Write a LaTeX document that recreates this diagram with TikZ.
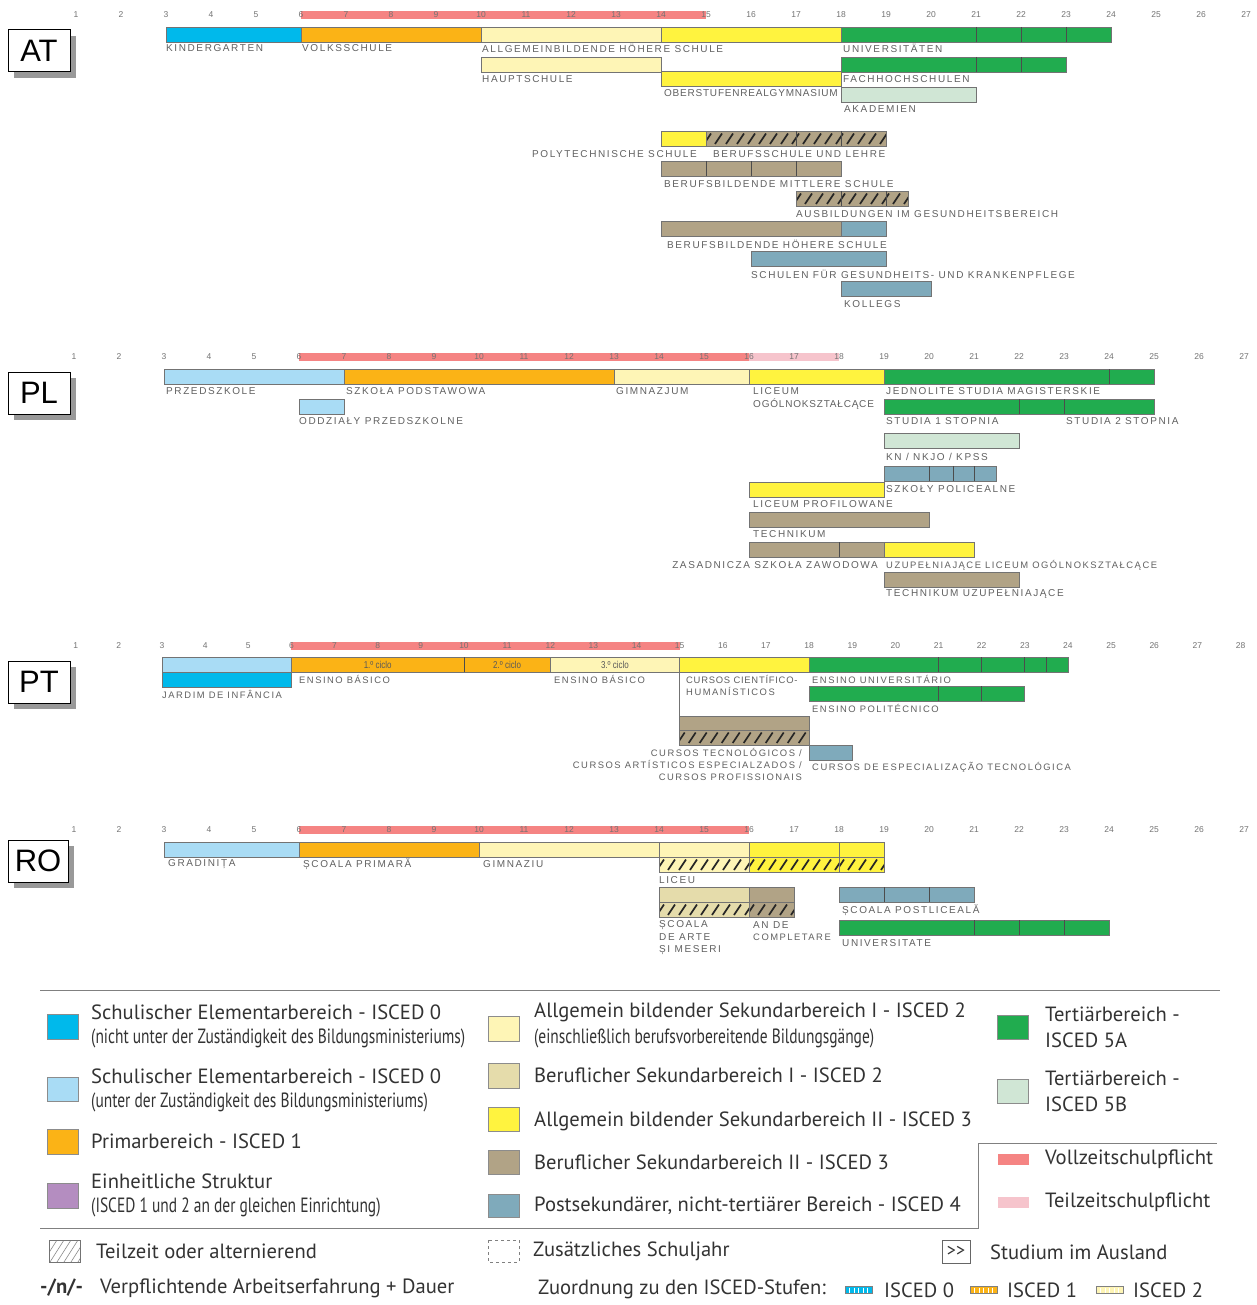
\documentclass[tikz,border=0pt]{standalone}
\usepackage{fontspec}
\setmainfont{Liberation Sans}
\newfontfamily\labfont[LetterSpace=16]{Liberation Sans}
\newfontfamily\labnarrow[LetterSpace=8]{Liberation Sans}
\newfontfamily\legfont{PT Sans}
\newfontfamily\legcond[FakeStretch=0.75]{PT Sans}
\newfontfamily\cicfont[FakeStretch=0.8]{Liberation Sans}
\definecolor{cCyan}{HTML}{00B9EB}
\definecolor{cLblue}{HTML}{A9DCF5}
\definecolor{cOrange}{HTML}{FBB316}
\definecolor{cPurple}{HTML}{B48DC0}
\definecolor{cLyel}{HTML}{FEF5B6}
\definecolor{cBeige}{HTML}{E5DCAB}
\definecolor{cYel}{HTML}{FFF33F}
\definecolor{cBrown}{HTML}{B1A386}
\definecolor{cBlue}{HTML}{7FAABB}
\definecolor{cGreen}{HTML}{21AC4F}
\definecolor{cLgreen}{HTML}{D0E6D5}
\definecolor{cRed}{HTML}{F58483}
\definecolor{cPink}{HTML}{F6C4CC}
\newcounter{nn}
\tikzset{
  bord/.style={draw=black!55, line width=0.8pt},
  divl/.style={draw=black!70, line width=0.8pt},
  hatchl/.style={draw=black!85, line width=1.7pt},
  lbl/.style={font=\labfont\fontsize{10}{11}\selectfont, text=black!62, inner sep=0pt},
  lblpt/.style={font=\labfont\fontsize{9.4}{10}\selectfont},
  lblnar/.style={font=\labnarrow\fontsize{10}{11}\selectfont},
  lblnarpt/.style={font=\labnarrow\fontsize{9.4}{10}\selectfont},
  numl/.style={font=\fontsize{8.5}{9}\selectfont, text=black!55, inner sep=0pt},
  cic/.style={font=\cicfont\fontsize{10}{10}\selectfont, text=black!65, inner sep=0pt},
  ctry/.style={draw=black, line width=1pt, fill=white, minimum width=62pt, minimum height=42pt, inner sep=0pt, font=\fontsize{31}{32}\selectfont},
  leg/.style={font=\legfont\fontsize{20.6}{22}\selectfont, text=black!80, inner sep=0pt, anchor=west},
  legc/.style={font=\legcond\fontsize{20.6}{22}\selectfont, text=black!80, inner sep=0pt, anchor=west},
  legbox/.style={draw=black!45, line width=0.7pt},
  sepl/.style={draw=black!50, line width=0.8pt},
  lbxtra/.style={}
}
\newcommand\lbtxt[4][west]{\stepcounter{nn}\node[lbl,anchor=#1,lbxtra] (lab\thenn) at (#2,#3) {#4};}
\newcommand\legtxt[4][leg]{\stepcounter{nn}\node[#1] (lg\thenn) at (#2,#3) {#4};}
\newcommand\mybar[4]{\draw[bord,fill=#4] ({\Xo+\Xs*(#1)},#3) rectangle ({\Xo+\Xs*(#2)},{#3+15});}
\newcommand\mydiv[2]{\draw[divl] ({\Xo+\Xs*(#1)},#2) -- ({\Xo+\Xs*(#1)},{#2+15});}
\newcommand\myhatch[4]{%
  \fill[#4] ({\Xo+\Xs*(#1)},#3) rectangle ({\Xo+\Xs*(#2)},{#3+15});
  \begin{scope}
    \clip ({\Xo+\Xs*(#1)},#3) rectangle ({\Xo+\Xs*(#2)},{#3+15});
    \pgfmathsetmacro\hxa{\Xo+\Xs*(#1)-2}
    \pgfmathsetmacro\hxn{\hxa+11}
    \pgfmathsetmacro\hxb{\Xo+\Xs*(#2)+2}
    \foreach \hx in {\hxa,\hxn,...,\hxb}{\draw[hatchl] ({\hx},{#3+13}) -- ({\hx+7},{#3+2.5});}
  \end{scope}
  \draw[bord] ({\Xo+\Xs*(#1)},#3) rectangle ({\Xo+\Xs*(#2)},{#3+15});}
\newcommand\mycomp[4]{\fill[#4] ({\Xo+\Xs*(#1)},{#3-4}) rectangle ({\Xo+\Xs*(#2)},{#3+4});}
\newcommand\mynums[3]{\foreach \a in {1,...,#2}{\node[numl] (#3\a) at ({\Xo+\Xs*\a},#1) {\a};}}
\newcommand\myctry[5]{%
  \fill[black!40] ({#2+6},{#3+6}) rectangle ({#4+6},{#5+6});
  \node[ctry, minimum width={#4-#2}, minimum height={#5-#3}] (#1) at ({(#2+#4)/2},{(#3+#5)/2}) {#1};}
\newcommand\iscedicon[3]{%
  \draw[black!50, line width=0.5pt, fill=#3] (#1,{#2-3.5}) rectangle ({#1+27},{#2+3.5});
  \foreach \k in {1,...,5}{\draw[white, line width=1pt] ({#1+\k*4.5},{#2-2.5}) -- ({#1+\k*4.5},{#2+2.5});}}
\begin{document}
\begin{tikzpicture}[x=1pt,y=-1pt]
\useasboundingbox (0,0) rectangle (1256,1305);
\fill[white] (0,0) rectangle (1256,1305);
% ================= AT =================
\def\Xo{31}\def\Xs{45}
\myctry{AT}{8}{30}{70}{72}
\mycomp{6}{15}{15}{cRed}
\mynums{15}{27}{at}
\mybar{3}{6}{27}{cCyan}
\mybar{6}{10}{27}{cOrange}
\mybar{10}{14}{27}{cLyel}
\mybar{14}{18}{27}{cYel}
\mybar{18}{24}{27}{cGreen}\mydiv{21}{27}\mydiv{22}{27}\mydiv{23}{27}
\lbtxt{166}{48}{KINDERGARTEN}
\lbtxt{302}{48}{VOLKSSCHULE}
\lbtxt{482}{48}{ALLGEMEINBILDENDE HÖHERE SCHULE}
\lbtxt{843}{48}{UNIVERSITÄTEN}
\mybar{10}{14}{57}{cLyel}
\mybar{18}{23}{57}{cGreen}\mydiv{21}{57}\mydiv{22}{57}
\mybar{14}{18}{71}{cYel}
\lbtxt{482}{79}{HAUPTSCHULE}
\lbtxt{843}{79}{FACHHOCHSCHULEN}
\mybar{18}{21}{87}{cLgreen}
\begingroup\tikzset{lbxtra/.style={lblnar}}
\lbtxt[east]{838}{93}{OBERSTUFENREALGYMNASIUM}
\endgroup
\lbtxt{844}{109}{AKADEMIEN}
\mybar{14}{15}{131}{cYel}
\myhatch{15}{19}{131}{cBrown}\mydiv{17}{131}\mydiv{18}{131}
\lbtxt[east]{697}{154}{POLYTECHNISCHE SCHULE}
\lbtxt{713}{154}{BERUFSSCHULE UND LEHRE}
\mybar{14}{18}{161}{cBrown}\mydiv{15}{161}\mydiv{16}{161}\mydiv{17}{161}
\lbtxt{664}{184}{BERUFSBILDENDE MITTLERE SCHULE}
\myhatch{17}{19.5}{191}{cBrown}\mydiv{18}{191}\mydiv{19}{191}
\lbtxt{796}{214}{AUSBILDUNGEN IM GESUNDHEITSBEREICH}
\mybar{14}{18}{221}{cBrown}
\mybar{18}{19}{221}{cBlue}
\lbtxt{667}{244}{BERUFSBILDENDE HÖHERE SCHULE}
\mybar{16}{19}{251}{cBlue}
\lbtxt{751}{274}{SCHULEN FÜR GESUNDHEITS- UND KRANKENPFLEGE}
\mybar{18}{20}{281}{cBlue}
\lbtxt{844}{304}{KOLLEGS}
% ================= PL =================
\def\Xo{29}\def\Xs{45}
\myctry{PL}{8}{372}{70}{414}
\mycomp{6}{16}{357}{cRed}
\mycomp{16}{18}{357}{cPink}
\mynums{357}{27}{pl}
\mybar{3}{7}{369}{cLblue}
\mybar{7}{13}{369}{cOrange}
\mybar{13}{16}{369}{cLyel}
\mybar{16}{19}{369}{cYel}
\mybar{19}{25}{369}{cGreen}\mydiv{24}{369}
\lbtxt{166}{391}{PRZEDSZKOLE}
\lbtxt{346}{391}{SZKOŁA PODSTAWOWA}
\lbtxt{616}{391}{GIMNAZJUM}
\lbtxt{753}{391}{LICEUM}
\begingroup\tikzset{lbxtra/.style={lblnar}}
\lbtxt{753}{404}{OGÓLNOKSZTAŁCĄCE}
\endgroup
\lbtxt{886}{391}{JEDNOLITE STUDIA MAGISTERSKIE}
\mybar{6}{7}{399}{cLblue}
\mybar{19}{25}{399}{cGreen}\mydiv{22}{399}\mydiv{23}{399}
\lbtxt{299}{421}{ODDZIAŁY PRZEDSZKOLNE}
\lbtxt{886}{421}{STUDIA 1 STOPNIA}
\lbtxt{1066}{421}{STUDIA 2 STOPNIA}
\mybar{19}{22}{433}{cLgreen}
\lbtxt{886}{457}{KN / NKJO / KPSS}
\mybar{19}{21.5}{466}{cBlue}\mydiv{20}{466}\mydiv{20.55}{466}\mydiv{21}{466}
\lbtxt{886}{489}{SZKOŁY POLICEALNE}
\mybar{16}{19}{482}{cYel}
\lbtxt{753}{504}{LICEUM PROFILOWANE}
\mybar{16}{20}{512}{cBrown}
\lbtxt{753}{534}{TECHNIKUM}
\mybar{16}{19}{542}{cBrown}\mydiv{18}{542}
\mybar{19}{21}{542}{cYel}
\lbtxt[east]{878}{565}{ZASADNICZA SZKOŁA ZAWODOWA}
\begingroup\tikzset{lbxtra/.style={lblpt}}
\lbtxt{886}{565}{UZUPEŁNIAJĄCE LICEUM OGÓLNOKSZTAŁCĄCE}
\endgroup
\mybar{19}{22}{572}{cBrown}
\lbtxt{886}{594}{TECHNIKUM UZUPEŁNIAJĄCE}
% ================= PT =================
\def\Xo{32.58}\def\Xs{43.14}
\begingroup\tikzset{lbxtra/.style={lblpt}}
\myctry{PT}{8}{661}{70}{703}
\mycomp{6}{15}{646}{cRed}
\mynums{646}{28}{pt}
\draw[black!55, line width=0.8pt] ({\Xo+\Xs*15},672) -- ({\Xo+\Xs*15},716);
\mybar{3}{6}{657}{cLblue}
\mybar{3}{6}{672}{cCyan}
\mybar{6}{12}{657}{cOrange}\mydiv{10}{657}
\mybar{12}{15}{657}{cLyel}
\mybar{15}{18}{657}{cYel}
\mybar{18}{24}{657}{cGreen}\mydiv{21}{657}\mydiv{22}{657}\mydiv{23}{657}\mydiv{23.5}{657}
\node[cic] (c1) at ({\Xo+\Xs*8},664.5) {1.º ciclo};
\node[cic] (c2) at ({\Xo+\Xs*11},664.5) {2.º ciclo};
\node[cic] (c3) at ({\Xo+\Xs*13.5},664.5) {3.º ciclo};
\lbtxt{299}{679}{ENSINO BÁSICO}
\lbtxt{554}{679}{ENSINO BÁSICO}
\begingroup\tikzset{lbxtra/.style={lblnarpt}}
\lbtxt{686}{679}{CURSOS CIENTÍFICO-}
\endgroup
\lbtxt{686}{691}{HUMANÍSTICOS}
\lbtxt{812}{679}{ENSINO UNIVERSITÁRIO}
\lbtxt{162}{694}{JARDIM DE INFÂNCIA}
\mybar{18}{23}{686}{cGreen}\mydiv{21}{686}\mydiv{22}{686}
\lbtxt{812}{708}{ENSINO POLITÉCNICO}
\mybar{15}{18}{716}{cBrown}
\myhatch{15}{18}{730}{cBrown}
\mybar{18}{19}{745}{cBlue}
\lbtxt[east]{802}{752}{CURSOS TECNOLÓGICOS /}
\lbtxt[east]{802}{764}{CURSOS ARTÍSTICOS ESPECIALZADOS /}
\lbtxt[east]{802}{777}{CURSOS PROFISSIONAIS}
\lbtxt{812}{767}{CURSOS DE ESPECIALIZAÇÃO TECNOLÓGICA}
\endgroup
% ================= RO =================
\def\Xo{29}\def\Xs{45}
\myctry{RO}{8}{840}{68}{882}
\mycomp{6}{16}{830}{cRed}
\mynums{830}{27}{ro}
\mybar{3}{6}{842}{cLblue}
\mybar{6}{10}{842}{cOrange}
\mybar{10}{14}{842}{cLyel}
\mybar{14}{16}{842}{cLyel}
\mybar{16}{18}{842}{cYel}
\mybar{18}{19}{842}{cYel}
\myhatch{14}{16}{857}{cLyel}
\myhatch{16}{18}{857}{cYel}
\myhatch{18}{19}{857}{cYel}
\lbtxt{168}{864}{GRADINIȚA}
\lbtxt{303}{864}{ȘCOALA PRIMARĂ}
\lbtxt{483}{864}{GIMNAZIU}
\lbtxt{659}{880}{LICEU}
\mybar{14}{16}{887}{cBeige}
\mybar{16}{17}{887}{cBrown}
\myhatch{14}{16}{902}{cBeige}
\myhatch{16}{17}{902}{cBrown}
\lbtxt{659}{925}{ȘCOALA}
\lbtxt{659}{937}{DE ARTE}
\lbtxt{659}{950}{ȘI MESERI}
\lbtxt{753}{925}{AN DE}
\begingroup\tikzset{lbxtra/.style={lblpt}}
\lbtxt{753}{937}{COMPLETARE}
\endgroup
\mybar{18}{21}{887}{cBlue}\mydiv{19}{887}\mydiv{20}{887}
\lbtxt{842}{910}{ȘCOALA POSTLICEALĂ}
\mybar{18}{24}{920}{cGreen}\mydiv{21}{920}\mydiv{22}{920}\mydiv{23}{920}
\lbtxt{842}{943}{UNIVERSITATE}
% ================= Legend =================
\draw[sepl] (40,990) -- (1220,990);
\draw[sepl] (40,1228) -- (978,1228) -- (978,1143) -- (1217,1143);
% column 1
\draw[legbox, fill=cCyan] (47,1014) rectangle (78,1039);
\legtxt{91}{1012}{Schulischer Elementarbereich - ISCED 0}
\legtxt[legc]{91}{1038}{(nicht unter der Zuständigkeit des Bildungsministeriums)}
\draw[legbox, fill=cLblue] (47,1077) rectangle (78,1101);
\legtxt{91}{1076}{Schulischer Elementarbereich - ISCED 0}
\legtxt[legc]{91}{1102}{(unter der Zuständigkeit des Bildungsministeriums)}
\draw[legbox, fill=cOrange] (47,1129) rectangle (78,1154);
\legtxt{91}{1141}{Primarbereich - ISCED 1}
\draw[legbox, fill=cPurple] (47,1183) rectangle (78,1208);
\legtxt{91}{1181}{Einheitliche Struktur}
\legtxt[legc]{91}{1207}{(ISCED 1 und 2 an der gleichen Einrichtung)}
% column 2
\draw[legbox, fill=cLyel] (488,1016) rectangle (519,1041);
\legtxt{534}{1012}{Allgemein bildender Sekundarbereich I - ISCED 2}
\legtxt[legc]{534}{1038}{(einschließlich berufsvorbereitende Bildungsgänge)}
\draw[legbox, fill=cBeige] (488,1063) rectangle (519,1088);
\legtxt{534}{1075}{Beruflicher Sekundarbereich I - ISCED 2}
\draw[legbox, fill=cYel] (488,1107) rectangle (519,1131);
\legtxt{534}{1121}{Allgemein bildender Sekundarbereich II - ISCED 3}
\draw[legbox, fill=cBrown] (488,1150) rectangle (519,1174);
\legtxt{534}{1162}{Beruflicher Sekundarbereich II - ISCED 3}
\draw[legbox, fill=cBlue] (488,1194) rectangle (519,1217);
\legtxt{534}{1206}{Postsekundärer, nicht-tertiärer Bereich - ISCED 4}
% column 3
\draw[legbox, fill=cGreen] (997,1015) rectangle (1028,1039);
\legtxt{1045}{1014}{Tertiärbereich -}
\legtxt{1045}{1040}{ISCED 5A}
\draw[legbox, fill=cLgreen] (997,1079) rectangle (1028,1103);
\legtxt{1045}{1078}{Tertiärbereich -}
\legtxt{1045}{1104}{ISCED 5B}
\fill[cRed] (998,1154) rectangle (1029,1165);
\legtxt{1045}{1159}{Vollzeitschulpflicht}
\fill[cPink] (998,1197) rectangle (1029,1208);
\legtxt{1045}{1202}{Teilzeitschulpflicht}
% bottom rows
\begin{scope}
  \clip (49,1240) rectangle (80,1262);
  \foreach \q in {36,43,...,85}{\draw[black!45, line width=0.6pt] (\q,1262) -- ({\q+14},1240);}
\end{scope}
\draw[black!55, line width=0.7pt] (49,1240) rectangle (80,1262);
\legtxt{96}{1251}{Teilzeit oder alternierend}
\draw[black!50, line width=0.7pt, dashed] (488,1240) rectangle (519,1262);
\legtxt{533}{1251}{Zusätzliches Schuljahr}
\node[draw=black!60, line width=0.7pt, minimum width=28pt, minimum height=23pt, inner sep=0pt, font=\legfont\fontsize{18}{18}\selectfont, text=black!80] (abroad) at (956,1251.5) {>>};
\legtxt{990}{1252}{Studium im Ausland}
\legtxt{40}{1288}{\bfseries -/n/-}
\legtxt{100}{1288}{Verpflichtende Arbeitserfahrung + Dauer}
\legtxt{538}{1289}{Zuordnung zu den ISCED-Stufen:}
\iscedicon{845}{1290}{cCyan}
\legtxt{884}{1290}{ISCED 0}
\iscedicon{970}{1290}{cOrange}
\legtxt{1007}{1290}{ISCED 1}
\iscedicon{1096}{1290}{cLyel}
\legtxt{1133}{1290}{ISCED 2}
\end{tikzpicture}
\end{document}
